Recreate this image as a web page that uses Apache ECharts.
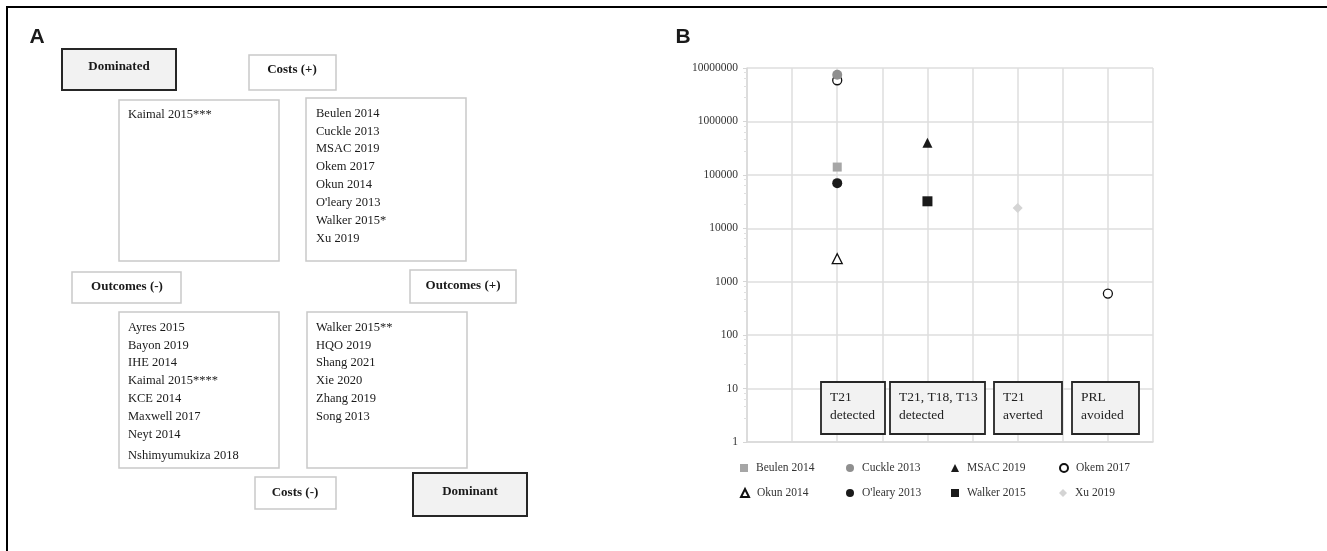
<!DOCTYPE html>
<html>
<head>
<meta charset="utf-8">
<script src="https://cdn.jsdelivr.net/npm/echarts@6/dist/echarts.min.js"></script>
<style>
  html, body { margin: 0; padding: 0; background: #fff; }
  #main { width: 1327px; height: 551px; }
</style>
</head>
<body>
<div id="main"></div>
<script>
// panel B data: x = outcome column, y = cost per outcome (log scale)
const studyNames = ['Beulen 2014', 'Cuckle 2013', 'MSAC 2019', 'Okem 2017', 'Okun 2014', "O'leary 2013", 'Walker 2015', 'Xu 2019'];
const beulenPts = [[2, 140000]];
const cucklePts = [[2, 7500000]];
const msacPts = [[4, 400000]];
const okemPts = [[2, 5900000], [8, 600]];
const okunPts = [[2, 2700]];
const olearyPts = [[2, 70000]];
const walkerPts = [[4, 32000]];
const xuPts = [[6, 24000]];
const outcomeLabels = [['T21', 'detected'], ['T21, T18, T13', 'detected'], ['T21', 'averted'], ['PRL', 'avoided']];
const yTicks = [1, 10, 100, 1000, 10000, 100000, 1000000, 10000000];

// panel A text
const dominatedLeft = ['Kaimal 2015***'];
const dominatedRight = ['Beulen 2014', 'Cuckle 2013', 'MSAC 2019', 'Okem 2017', 'Okun 2014', "O'leary 2013", 'Walker 2015*', 'Xu 2019'];
const lowerLeft = ['Ayres 2015', 'Bayon 2019', 'IHE 2014', 'Kaimal 2015****', 'KCE 2014', 'Maxwell 2017', 'Neyt 2014', 'Nshimyumukiza 2018'];
const lowerRight = ['Walker 2015**', 'HQO 2019', 'Shang 2021', 'Xie 2020', 'Zhang 2019', 'Song 2013'];

const SERIF = '"Liberation Serif", "Times New Roman", serif';
const SANS = '"Liberation Sans", Arial, sans-serif';

function box(x1, y1, x2, y2, dark) {
  return {
    type: 'rect',
    shape: { x: x1, y: y1, width: x2 - x1, height: y2 - y1 },
    style: dark ? { fill: '#f2f2f2', stroke: '#262626', lineWidth: 2 }
                : { fill: '#fff', stroke: '#c9c9c9', lineWidth: 1.5 },
    z: 1
  };
}
function label(txt, cx, cy, size, bold, font) {
  return {
    type: 'text',
    x: cx, y: cy,
    style: {
      text: txt,
      font: (bold ? 'bold ' : '') + size + 'px ' + (font || SERIF),
      fill: '#1a1a1a',
      textAlign: 'center',
      textVerticalAlign: 'middle'
    },
    z: 2
  };
}
function lines(list, x, ys) {
  return list.map((t, i) => ({
    type: 'text',
    x: x, y: ys[i],
    style: { text: t, font: '12.5px ' + SERIF, fill: '#1a1a1a', textAlign: 'left', textVerticalAlign: 'middle' },
    z: 2
  }));
}

const yRows8 = [114, 132, 149, 167, 185, 203, 221, 239];
const yRowsLow = [328, 346, 363, 381, 399, 417, 435, 456];

let graphics = [
  // frame (top and left only)
  { type: 'line', shape: { x1: 6, y1: 7, x2: 1327, y2: 7 }, style: { stroke: '#000', lineWidth: 2 } },
  { type: 'line', shape: { x1: 7, y1: 6, x2: 7, y2: 551 }, style: { stroke: '#000', lineWidth: 2 } },
  label('A', 37, 37, 21, true, SANS),
  label('B', 683, 37, 21, true, SANS),
  box(62, 49, 176, 90, true), label('Dominated', 119, 67, 13, true),
  box(249, 55, 336, 90), label('Costs (+)', 292, 70, 13, true),
  box(119, 100, 279, 261),
  box(306, 98, 466, 261),
  box(72, 272, 181, 303), label('Outcomes (-)', 127, 287, 13, true),
  box(410, 270, 516, 303), label('Outcomes (+)', 463, 286, 13, true),
  box(119, 312, 279, 468),
  box(307, 312, 467, 468),
  box(255, 477, 336, 509), label('Costs (-)', 295, 493, 13, true),
  box(413, 473, 527, 516, true), label('Dominant', 470, 492, 13, true)
];
graphics = graphics
  .concat(lines(dominatedLeft, 128, [115]))
  .concat(lines(dominatedRight, 316, yRows8))
  .concat(lines(lowerLeft, 128, yRowsLow))
  .concat(lines(lowerRight, 316, yRowsLow));

// outcome label boxes inside panel B
const labelBoxes = [[821, 885], [890, 985], [994, 1062], [1072, 1139]];
labelBoxes.forEach((b, i) => {
  graphics.push({
    type: 'rect',
    shape: { x: b[0], y: 382, width: b[1] - b[0], height: 52 },
    style: { fill: '#f2f2f2', stroke: '#262626', lineWidth: 1.8 },
    z: 10
  });
  graphics.push({
    type: 'text', x: b[0] + 9, y: 397,
    style: { text: outcomeLabels[i][0], font: '13.5px ' + SERIF, fill: '#222', textVerticalAlign: 'middle' },
    z: 11
  });
  graphics.push({
    type: 'text', x: b[0] + 9, y: 415,
    style: { text: outcomeLabels[i][1], font: '13.5px ' + SERIF, fill: '#222', textVerticalAlign: 'middle' },
    z: 11
  });
});

const seriesDefs = [
  { name: studyNames[0], data: beulenPts, symbol: 'rect', size: 9, style: { color: '#a6a6a6' } },
  { name: studyNames[1], data: cucklePts, symbol: 'circle', size: 10, style: { color: '#8f8f8f' }, z: 4 },
  { name: studyNames[2], data: msacPts, symbol: 'triangle', size: 10, style: { color: '#1a1a1a' } },
  { name: studyNames[3], data: okemPts, symbol: 'circle', size: 9, style: { color: '#fff', borderColor: '#111', borderWidth: 1.3 } },
  { name: studyNames[4], data: okunPts, symbol: 'triangle', size: 10, style: { color: '#fff', borderColor: '#111', borderWidth: 1.3 } },
  { name: studyNames[5], data: olearyPts, symbol: 'circle', size: 10, style: { color: '#1a1a1a' } },
  { name: studyNames[6], data: walkerPts, symbol: 'rect', size: 10, style: { color: '#1a1a1a' } },
  { name: studyNames[7], data: xuPts, symbol: 'diamond', size: 10, style: { color: '#d4d4d4' } }
];

const legendCols = [735, 841, 946, 1054];
const legends = studyNames.map((n, i) => ({
  data: [n],
  left: legendCols[i % 4],
  top: i < 4 ? 457 : 482,
  itemWidth: 8,
  itemHeight: 8,
  itemGap: 0,
  selectedMode: false,
  textStyle: { fontFamily: SERIF, fontSize: 11.5, color: '#333', padding: [0, 0, 0, 3] }
}));

const chart = echarts.init(document.getElementById('main'));
chart.setOption({
  animation: false,
  backgroundColor: '#fff',
  graphic: graphics,
  legend: legends,
  grid: { left: 747, top: 68, width: 406, height: 374, containLabel: false },
  xAxis: {
    type: 'value', min: 0, max: 9, interval: 1,
    axisLabel: { show: false },
    axisTick: { show: false },
    axisLine: { show: true, lineStyle: { color: '#d9d9d9', width: 1.5 } },
    splitLine: { show: true, lineStyle: { color: '#dedede', width: 1.5 } }
  },
  yAxis: {
    type: 'log', logBase: 10, min: yTicks[0], max: yTicks[yTicks.length - 1],
    splitNumber: 7,
    axisLabel: {
      fontFamily: SERIF, fontSize: 11.5, color: '#333', margin: 9,
      formatter: v => String(Math.round(v))
    },
    axisLine: { show: true, lineStyle: { color: '#d9d9d9', width: 1.5 } },
    axisTick: { show: true, length: 4, lineStyle: { color: '#d6d6d6' } },
    minorTick: { show: true, splitNumber: 5, length: 3, lineStyle: { color: '#e0e0e0' } },
    splitLine: { show: true, lineStyle: { color: '#dedede', width: 1.5 } }
  },
  series: seriesDefs.map(s => ({
    name: s.name,
    type: 'scatter',
    data: s.data,
    symbol: s.symbol,
    symbolSize: s.size,
    itemStyle: Object.assign({ opacity: 1 }, s.style),
    z: s.z || 3
  }))
});
</script>
</body>
</html>
